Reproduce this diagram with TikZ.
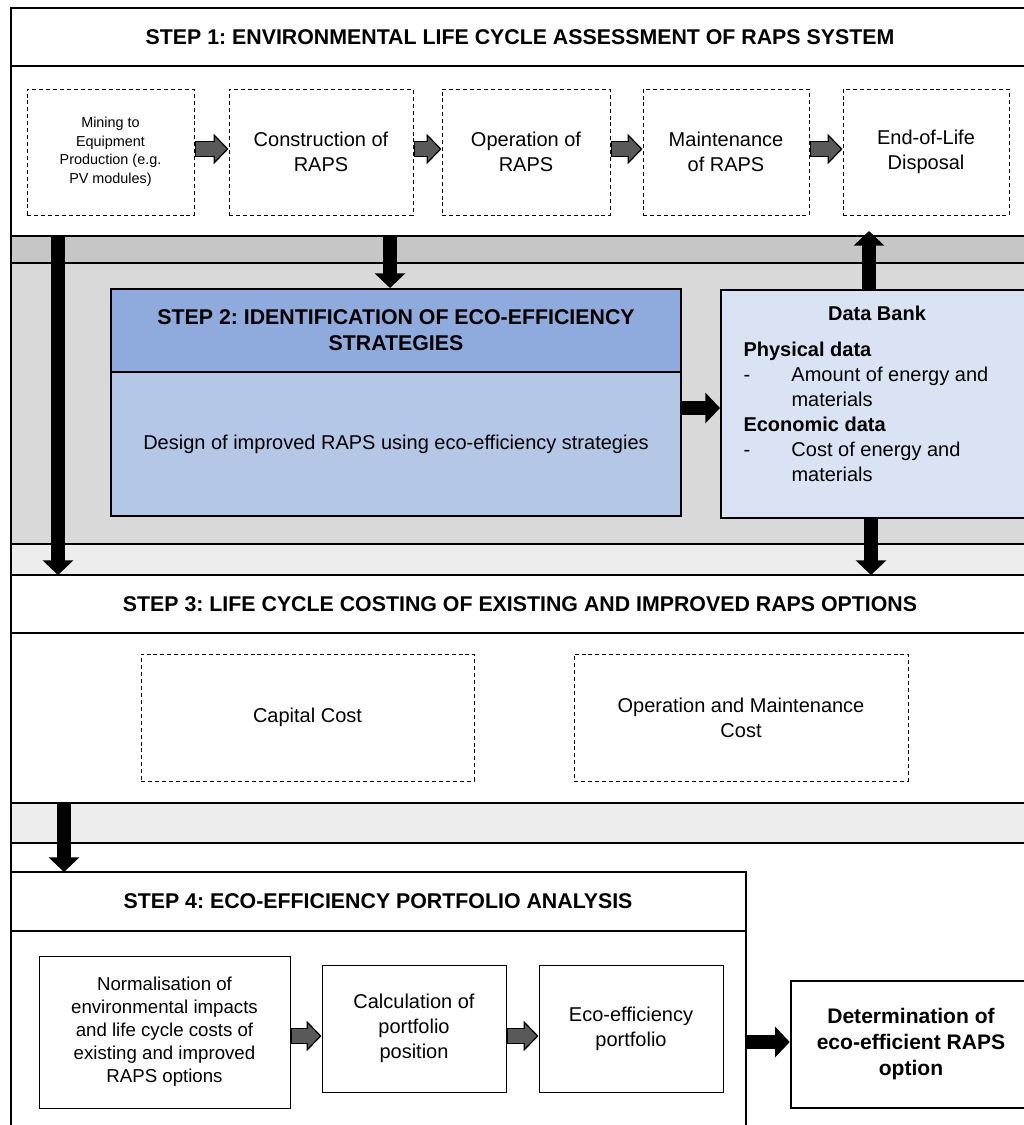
\documentclass[tikz,border=0pt]{standalone}
\usepackage{fontspec}
\setmainfont{Liberation Sans}
\usetikzlibrary{arrows.meta}
\frenchspacing

\definecolor{bandgray}{HTML}{C6C6C6}
\definecolor{areagray}{HTML}{D9D9D9}
\definecolor{palegray}{HTML}{EDEDED}
\definecolor{headblue}{HTML}{8FAADC}
\definecolor{bodyblue}{HTML}{B4C7E7}
\definecolor{bankblue}{HTML}{DAE3F3}
\definecolor{arrowgray}{HTML}{595959}

\newcommand{\stepfont}{\fontsize{16}{19.5}\selectfont\bfseries}
\newcommand{\boxfont}{\fontsize{15}{18.75}\selectfont}

\tikzset{every picture/.style={line width=0.75pt}}
\tikzset{
  frame/.style={draw=black, line width=1.5pt},
  boxsize/.style 2 args={minimum width=#1*0.75pt, minimum height=#2*0.75pt},
  steptitle/.style={inner sep=0.75pt, align=center, font=\stepfont},
  dashbox/.style={draw, dash pattern=on 3pt off 2.2pt, fill=white, inner sep=0pt, align=center, font=\boxfont},
  plainbox/.style={draw, fill=white, inner sep=0pt, align=center, font=\boxfont},
  bluebox/.style={draw, line width=1.5pt, inner sep=0pt, align=center, font=\boxfont},
  blackarrow/.style={draw=black, line width=10.5pt, -{Triangle[length=11pt,width=22.5pt]}},
  grayarrow/.style={draw=black, line width=12pt, -{Triangle[length=11.25pt,width=22.5pt]},
    postaction={draw=arrowgray, line width=10pt, shorten <=0.8pt, shorten >=1.4pt, -{Triangle[length=8.8pt,width=17.6pt]}}},
}

\begin{document}
\begin{tikzpicture}[x=0.75pt,y=0.75pt,yscale=-1,xscale=1]
	\useasboundingbox (0,0) rectangle (1024,1125);
	\clip (0,0) rectangle (1024,1125);
	
	%Frames: step 1
	\draw[frame, fill=white] (11,8) rectangle (1040,66);
	\draw[frame, fill=white] (11,66) rectangle (1040,236);
	%Frames: step 2 bands
	\draw[frame, fill=bandgray] (11,236) rectangle (1040,263);
	\draw[frame, fill=areagray] (11,263) rectangle (1040,544);
	\draw[frame, fill=palegray] (11,544) rectangle (1040,575);
	%Frames: step 3
	\draw[frame, fill=white] (11,575) rectangle (1040,633);
	\draw[frame, fill=white] (11,633) rectangle (1040,803);
	\draw[frame, fill=palegray] (11,803) rectangle (1040,843);
	\draw[frame, fill=white] (11,843) rectangle (1040,1140);
	%Frames: step 4
	\draw[frame, fill=white] (11,872) rectangle (746,931);
	\draw[frame, fill=white] (11,931) rectangle (746,1140);
	
	% Text Node
	\node[steptitle] (s1title) at (520,37) {STEP 1: ENVIRONMENTAL LIFE CYCLE ASSESSMENT OF RAPS SYSTEM};
	\node[steptitle] (s3title) at (520,604) {STEP 3: LIFE CYCLE COSTING OF EXISTING AND IMPROVED RAPS OPTIONS};
	\node[steptitle] (s4title) at (378,901) {STEP 4: ECO-EFFICIENCY PORTFOLIO ANALYSIS};
	
	%Step 1 boxes
	\node[dashbox, boxsize={167}{126}, font=\fontsize{10.8}{13.9}\selectfont] (mining) at (110.5,152) {Mining to\\Equipment\\Production (e.g.\\PV modules)};
	\node[dashbox, boxsize={184}{126}] (construct) at (321,152) {Construction of\\RAPS};
	\node[dashbox, boxsize={168}{126}] (operate) at (526,152) {Operation of\\RAPS};
	\node[dashbox, boxsize={166}{126}] (maintain) at (726,152) {Maintenance\\of RAPS};
	\node[dashbox, boxsize={166}{126}] (disposal) at (926,152) {End-of-Life\\Disposal};
	
	\draw[grayarrow] ([yshift=-2.25pt]mining.east) -- ([yshift=-2.25pt]construct.west);
	\draw[grayarrow] ([yshift=-2.25pt]construct.east) -- ([yshift=-2.25pt]operate.west);
	\draw[grayarrow] ([yshift=-2.25pt]operate.east) -- ([yshift=-2.25pt]maintain.west);
	\draw[grayarrow] ([yshift=-2.25pt]maintain.east) -- ([yshift=-2.25pt]disposal.west);
	
	%Step 2 and data bank
	\node[bluebox, fill=headblue, boxsize={570}{83}, font=\stepfont] (s2head) at (396,330.5) {STEP 2: IDENTIFICATION OF ECO-EFFICIENCY\\STRATEGIES};
	\node[bluebox, fill=bodyblue, boxsize={570}{144}] (s2body) at (396,444) {Design of improved RAPS using eco-efficiency strategies};
	\node[bluebox, fill=bankblue, boxsize={319}{228}] (databank) at (880.5,404) {};
	% Text Node
	\node[inner sep=0pt, font=\boxfont\bfseries] (banktitle) at (877,313) {Data Bank};
	\node[inner sep=0pt, anchor=north west, align=left, font=\boxfont] (banklist) at (743,342)
	  {\textbf{Physical data}\\
	   \makebox[36pt][l]{-}Amount of energy and\\
	   \hspace*{36pt}materials\\
	   \textbf{Economic data}\\
	   \makebox[36pt][l]{-}Cost of energy and\\
	   \hspace*{36pt}materials};
	
	%Step 3 boxes
	\node[dashbox, boxsize={333}{127}] (capital) at (307.5,717.5) {Capital Cost};
	\node[dashbox, boxsize={334}{127}] (omcost) at (741,717.5) {Operation and Maintenance\\Cost};
	
	%Step 4 boxes
	\node[plainbox, boxsize={251}{152}, font=\fontsize{14}{17.3}\selectfont] (normal) at (164.5,1032) {Normalisation of\\environmental impacts\\and life cycle costs of\\existing and improved\\RAPS options};
	\node[plainbox, boxsize={184}{127}] (calc) at (414,1028.5) {Calculation of\\portfolio\\position};
	\node[plainbox, boxsize={184}{127}] (portfolio) at (631,1028.5) {Eco-efficiency\\portfolio};
	\node[plainbox, boxsize={240}{127}, line width=1.9pt, font=\fontsize{15.8}{19.5}\selectfont\bfseries] (determ) at (911,1044.5) {Determination of\\eco-efficient RAPS\\option};
	
	\draw[grayarrow] (normal.east |- 0,1036) -- (calc.west |- 0,1036);
	\draw[grayarrow] (calc.east |- 0,1036) -- (portfolio.west |- 0,1036);
	
	%Black arrows
	\coordinate (lcafrom) at (58,236);
	\coordinate (lccto) at (58,575);
	\coordinate (lcaout) at (390,236);
	\coordinate (eolin) at (869,231);
	\coordinate (lccin) at (871,575);
	\coordinate (lccout) at (64,803);
	\coordinate (eepin) at (64,872);
	\coordinate (eepout) at (746,1042);
	\draw[blackarrow] (lcafrom) -- (lccto);
	\draw[blackarrow] (lcaout) -- (lcaout |- s2head.north);
	\draw[blackarrow] (databank.north -| eolin) -- (eolin);
	\draw[blackarrow] (s2body.east |- 0,408) -- (databank.west |- 0,408);
	\draw[blackarrow] (databank.south -| lccin) -- (lccin);
	\draw[blackarrow] (lccout) -- (eepin);
	\draw[blackarrow] (eepout) -- (determ.west |- eepout);
	
\end{tikzpicture}
\end{document}
